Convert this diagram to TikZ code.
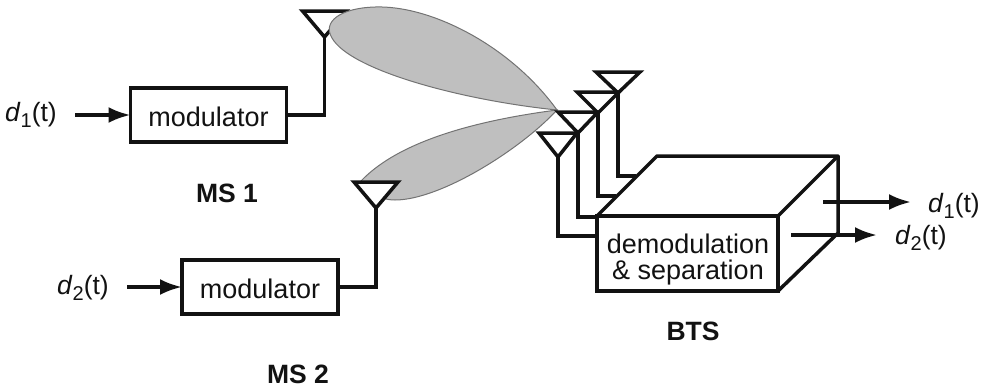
\documentclass[tikz,border=0pt]{standalone}
\usepackage{fontspec}
\setmainfont{Liberation Sans}
\usetikzlibrary{calc}
\usetikzlibrary{arrows.meta}
\tikzstyle{block} = [draw, fill=white, rectangle, line width=3.5pt, outer sep=0pt,
    minimum height=54pt, minimum width=156pt, inner sep=0pt, align=center,
    font=\fontsize{27}{26}\selectfont]
\tikzstyle{input} = [coordinate]
\tikzstyle{output} = [coordinate]
\tikzstyle{tag} = [inner sep=0pt, font=\fontsize{26.5}{31}\selectfont]
\tikzstyle{caption} = [inner sep=0pt, font=\fontsize{26.5}{31}\selectfont\bfseries]
\tikzstyle{wire} = [line width=3.5pt, line join=miter]
\tikzstyle{lobe} = [draw=black!55, line width=1pt, fill=black!25]
\definecolor{inkline}{gray}{0.07}
% antenna: name, apex, half width, height
\newcommand{\antenna}[4]{
    \coordinate (#1) at #2;
    \draw [wire, fill=white] ($(#1)+(-#3,-#4)$) -- ($(#1)+(#3,-#4)$) -- (#1) -- cycle;
}
\newcommand{\dsig}[1]{\textit{d}\raisebox{-0.25em}{\fontsize{20}{20}\selectfont #1}(t)}

\begin{document}
\begin{tikzpicture}[x=1pt, y=-1pt, >={Latex[length=22pt,width=16pt]}, color=inkline]
    \useasboundingbox (0,0) rectangle (987,389);
    % first antenna goes under its lobe
    \antenna{ant1}{(324.5,37)}{22}{26}
    \draw [lobe] (557,110) .. controls (510,45) and (430,5) .. (375,7)
        .. controls (340,8) and (322,22) .. (332,38)
        .. controls (350,70) and (460,100) .. (557,110) -- cycle;
    \draw [lobe] (557,110) .. controls (480,120) and (400,140) .. (361,181)
        .. controls (368,190) and (378,200) .. (395,200)
        .. controls (440,200) and (520,150) .. (557,110) -- cycle;

    % We start by placing the blocks
    \node [block, text height=23pt] (mod1) at (208.5,115) {modulator};
    \node [block, text height=23pt] (mod2) at (260,287) {modulator};
    \coordinate (back1) at (657,156);
    \coordinate (back2) at (838,156);
    \coordinate (back3) at (838,233);
    \node [block, minimum width=181pt, minimum height=75pt, fill=none] (demod) at (687.5,253.5) {};
    \node [block, draw=none, fill=none, minimum width=0pt, minimum height=0pt] (demodtext) at (688,260) {demodulation\\\& separation};

    % mobile side
    \node [input] (in1) at (75,115) {};
    \node [input] (in2) at (127,287) {};
    \antenna{ant2}{(376,208)}{22}{26}
    \node [tag, anchor=west] (d1in) at (5,115) {\dsig{1}};
    \node [tag, anchor=west] (d2in) at (57,288) {\dsig{2}};
    \node [caption] (ms1) at (227,193) {MS 1};
    \node [caption] (ms2) at (298,374) {MS 2};
    \draw [wire, ->] (in1) -- (mod1.west);
    \draw [wire, ->] (in2) -- (mod2.west);
    \draw [wire] (ant1) |- (mod1.east);
    \draw [wire] (ant2) |- (mod2.east);

    % base station antennas
    \antenna{rx4}{(618,93)}{22}{21}
    \antenna{rx3}{(598,113)}{21}{21}
    \antenna{rx2}{(578,133)}{20}{21}
    \antenna{rx1}{(558,157)}{19}{24}
    \draw [wire] (rx1) |- (597,236);
    \draw [wire] (rx2) |- (597,217);
    \draw [wire] (rx3) |- (616,196);
    \draw [wire] (rx4) |- (636,176);

    % the box
    \draw [wire, line join=round] (demod.north west) -- (back1) -- (back2) -- (demod.north east);
    \draw [wire] (back2) -- (back3) -- (demod.south east);
    \node [output] (out1) at (911,202) {};
    \node [output] (out2) at (877,235) {};
    \coordinate (from1) at (823,202);
    \coordinate (from2) at (791,235);
    \draw [wire, ->] (from1) -- (out1);
    \draw [wire, ->] (from2) -- (out2);
    \node [tag, anchor=west] (d1out) at (928,206) {\dsig{1}};
    \node [tag, anchor=west] (d2out) at (895,238) {\dsig{2}};
    \node [caption] (bts) at (693,331) {BTS};
\end{tikzpicture}
\end{document}
